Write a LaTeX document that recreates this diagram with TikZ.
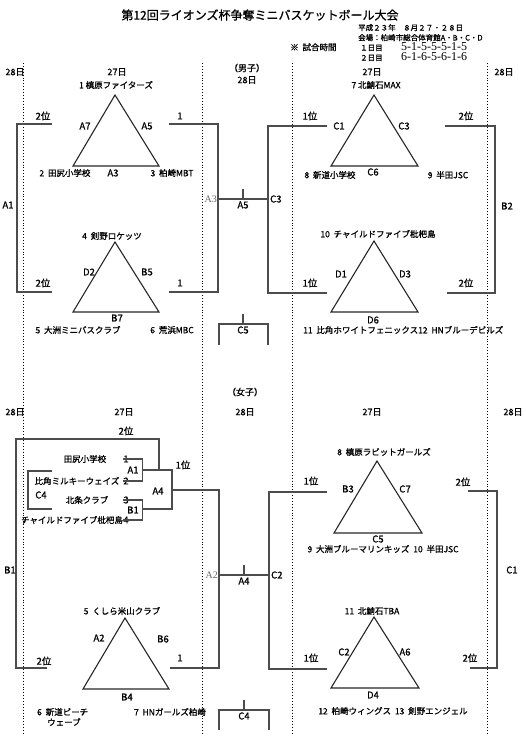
\documentclass[tikz,border=0pt]{standalone}
\usepackage{fontspec}
\setmainfont{Noto Sans CJK JP}[FakeBold=0.9]
\newfontfamily\serifnum{Liberation Serif}
\usetikzlibrary{calc}

\tikzset{
  team/.style={font=\fontsize{8.5}{10}\selectfont, inner sep=0pt},
  game/.style={font=\fontsize{9.5}{11}\selectfont, inner sep=0pt},
  head/.style={font=\fontsize{9}{11}\selectfont, inner sep=0pt},
  info/.style={font=\fontsize{7.5}{9}\selectfont, inner sep=0pt, anchor=west, text height=6pt, text depth=1pt},
  bracket/.style={line width=1.1pt, draw=black!70},
  tri/.style={line width=1.1pt, draw=black!85},
  guide/.style={dotted, line width=0.9pt},
}

\begin{document}
\begin{tikzpicture}[x=1pt, y=-1pt]
    \useasboundingbox (0,0) rectangle (526,737);

    % Title and schedule
    \node (title) at (260,15) [font=\fontsize{12}{14}\selectfont] {第12回ライオンズ杯争奪ミニバスケットボール大会};
    \node (date) at (358,28) [info] {平成２３年　８月２７・２８日};
    \node (venue) at (358,38) [info] {会場：柏崎市総合体育館A・B・C・D};
    \node (note) at (290,48) [info, font=\fontsize{8.5}{10}\selectfont] {※\ \ 試合時間};
    \node (day1) at (360,48) [info] {１日目};
    \node (day2) at (360,58) [info] {２日目};
    \node (time1) at (401,47.5) [info, font=\serifnum\fontsize{12}{13}\selectfont] {5-1-5-5-5-1-5};
    \node (time2) at (401,58) [info, font=\serifnum\fontsize{12}{13}\selectfont] {6-1-6-5-6-1-6};

    % Day guides
    \draw[guide] (23,63) coordinate (g1) -- (23,735);
    \draw[guide] (202,63) coordinate (g2) -- (202,735);
    \draw[guide] (292,63) coordinate (g3) -- (292,735);
    \draw[guide] (487,63) coordinate (g4) -- (487,735);

    % % Boys
    \node (mh1) at (15,72) [head] {28日};
    \node (mh2) at (117,72) [head] {27日};
    \node (mh3) at (247,68) [head] {（男子）};
    \node (mh4) at (247,80) [head] {28日};
    \node (mh5) at (372,72) [head] {27日};
    \node (mh6) at (504,72) [head] {28日};

    % Group 1-2-3
    \coordinate (p1) at (115,95);
    \coordinate (p2) at (73,166);
    \coordinate (p3) at (159,166);
    \draw[tri] (p1) -- (p2) -- (p3) -- cycle;
    \node (t1) at (116,85) [team] {1\ 槙原ファイターズ};
    \node (t2) at (65,173) [team] {2\ \ 田尻小学校};
    \node (t3) at (172,173) [team] {3\ \ 柏崎MBT};
    \node (e12) at (85,126) [game] {A7};
    \node (e13) at (147,126) [game] {A5};
    \node (e23) at (113,173) [game] {A3};

    % Group 4-5-6
    \coordinate (p4) at (115,242);
    \coordinate (p5) at (73,312);
    \coordinate (p6) at (159,312);
    \draw[tri] (p4) -- (p5) -- (p6) -- cycle;
    \node (t4) at (112,236) [team] {4\ \ 剣野ロケッツ};
    \node (t5) at (78,330) [team] {5\ \ 大洲ミニバスクラブ};
    \node (t6) at (172,330) [team] {6\ \ 荒浜MBC};
    \node (e45) at (89,272) [game] {D2};
    \node (e46) at (147,272) [game] {B5};
    \node (e56) at (117,318) [game] {B7};

    % Group 7-8-9
    \coordinate (p7) at (374,95);
    \coordinate (p8) at (331,166);
    \coordinate (p9) at (418,166);
    \draw[tri] (p7) -- (p8) -- (p9) -- cycle;
    \node (t7) at (376,85) [team] {7\ 北鯖石MAX};
    \node (t8) at (330,175) [team] {8\ \ 新道小学校};
    \node (t9) at (448,175) [team] {9\ \ 半田JSC};
    \node (e78) at (339,126) [game] {C1};
    \node (e79) at (404,126) [game] {C3};
    \node (e89) at (373,172) [game] {C6};

    % Group 10-11-12
    \coordinate (p10) at (374,241);
    \coordinate (p11) at (331,312);
    \coordinate (p12) at (418,312);
    \draw[tri] (p10) -- (p11) -- (p12) -- cycle;
    \node (t10) at (378,234) [team] {10\ \ チャイルドファイブ枇杷島};
    \node (t11) at (303,330) [team, anchor=west] {11\ \ 比角ホワイトフェニックス12\ \ HNブルーデビルズ};
    \node (e1011) at (341,274) [game] {D1};
    \node (e1012) at (405,274) [game] {D3};
    \node (e1112) at (373,320) [game] {D6};

    % Places
    \coordinate (m2a) at (52,124);
    \coordinate (m2b) at (52,292);
    \draw[bracket] (m2a) -- ++(-35,0) |- (m2b);
    \node (mr1) at (43,116) [game] {2位};
    \node (mr2) at (43,283) [game] {2位};
    \node (mg1) at (8,205) [game] {A1};

    \coordinate (m2c) at (445,126);
    \coordinate (m2d) at (447,293);
    \draw[bracket] (m2c) -- ++(50,0) |- (m2d);
    \node (mr3) at (466,116) [game] {2位};
    \node (mr4) at (466,283) [game] {2位};
    \node (mg2) at (507,206) [game] {B2};

    % Final round
    \coordinate (m1a) at (169,124);
    \coordinate (m1b) at (169,292);
    \coordinate (m1c) at (327,126);
    \coordinate (m1d) at (327,293);
    \coordinate (mL) at (218,199);
    \coordinate (mR) at (268,199);
    \draw[bracket] (m1a) -| (mL) |- (m1b);
    \draw[bracket] (m1c) -| (mR) |- (m1d);
    \draw[bracket] (mL) -- (mR);
    \draw[bracket] ($(mL)!0.5!(mR)$) coordinate (mF) -- ++(0,-10);
    \node (mw1) at (180,116) [game] {1};
    \node (mw2) at (180,283) [game] {1};
    \node (mw3) at (310,116) [game] {1位};
    \node (mw4) at (310,283) [game] {1位};
    \node (mgL) at (217,199) [anchor=east, inner sep=0pt, text=black!60, font=\serifnum\fontsize{10}{11}\selectfont] {A3};
    \node (mgF) at (243,205) [game] {A5};
    \node (mgR) at (270,199) [game, anchor=west] {C3};

    % Third place
    \coordinate (m3) at (243,314);
    \draw[bracket] (m3) -- ++(0,10) -- ++(-24,0) -- ++(0,21);
    \draw[bracket] (m3) ++(0,10) -- ++(25,0) -- ++(0,21);
    \node (mg3) at (243,330) [game] {C5};

    % % Girls
    \node (wh1) at (245,392) [head] {（女子）};
    \node (wh2) at (15,412) [head] {28日};
    \node (wh3) at (124,412) [head] {27日};
    \node (wh4) at (245,412) [head] {28日};
    \node (wh5) at (372,412) [head] {27日};
    \node (wh6) at (513,412) [head] {28日};

    % Group 1-2-3-4
    \node (u1) at (85,459) [team] {田尻小学校};
    \node (u2) at (77,481) [team] {比角ミルキーウェイズ};
    \node (u3) at (87,500) [team] {北条クラブ};
    \node (u4) at (72,520) [team] {チャイルドファイブ枇杷島};
    \node (n1) at (126,459) [game] {1};
    \node (n2) at (126,481) [game] {2};
    \node (n3) at (126,500) [game] {3};
    \node (n4) at (126,520) [game] {4};
    \draw[bracket] (n1.west) -- ++(19.5,0) |- (n2.west);
    \draw[bracket] (n3.west) -- ++(19.5,0) |- (n4.west);
    \node (wgA1) at (133,470) [game] {A1};
    \node (wgB1) at (133,510) [game] {B1};

    \coordinate (wA1) at (143,470);
    \coordinate (wB1) at (143,509);
    \draw[bracket] (wA1) -- ++(29,0) |- (wB1);
    \node (wgA4) at (158,491) [game] {A4};
    \node (ww0) at (183,465) [game] {1位};

    \coordinate (w2a) at (47,668);
    \coordinate (w2top) at (159,470);
    \draw[bracket] (w2a) -- ++(-31,0) -- ++(0,-229) -| (w2top);
    \node (wr0) at (126,431) [game] {2位};
    \node (wr1) at (44,661) [game] {2位};
    \node (wgB1b) at (10,570) [game] {B1};

    \coordinate (wc4a) at (52,471);
    \coordinate (wc4b) at (52,509);
    \draw[bracket] (wc4a) -- ++(-24,0) |- (wc4b);
    \node (wgC4) at (41,495) [game] {C4};

    % Group 5-6-7
    \coordinate (q5) at (125,618);
    \coordinate (q6) at (83,689);
    \coordinate (q7) at (169,689);
    \draw[tri] (q5) -- (q6) -- (q7) -- cycle;
    \node (s5) at (122,611) [team] {5\ \ くしら米山クラブ};
    \node (s6) at (37,712) [team, anchor=west] {6\ \ 新道ビーチ};
    \node (s6b) at (47,722) [team, anchor=west] {ウェーブ};
    \node (s7) at (170,712) [team] {7\ \ HNガールズ柏崎};
    \node (f56) at (99,638) [game] {A2};
    \node (f57) at (163,639) [game] {B6};
    \node (f67) at (127,697) [game] {B4};

    % Group 8-9-10
    \coordinate (q8) at (377,461);
    \coordinate (q9) at (334,533);
    \coordinate (q10) at (422,533);
    \draw[tri] (q8) -- (q9) -- (q10) -- cycle;
    \node (s8) at (384,452) [team] {8\ \ 槙原ラビットガールズ};
    \node (s9) at (383,549) [team] {9\ \ 大洲ブルーマリンキッズ\ \ 10\ \ 半田JSC};
    \node (f89) at (348,489) [game] {B3};
    \node (f810) at (405,489) [game] {C7};
    \node (f910) at (378,539) [game] {C5};

    % Group 11-12-13
    \coordinate (q11) at (374,617);
    \coordinate (q12) at (331,688);
    \coordinate (q13) at (419,688);
    \draw[tri] (q11) -- (q12) -- (q13) -- cycle;
    \node (s11) at (372,611) [team] {11\ \ 北鯖石TBA};
    \node (s12) at (393,711) [team] {12\ \ 柏崎ウィングス\ \ 13\ \ 剣野エンジェル};
    \node (f1112) at (344,652) [game] {C2};
    \node (f1113) at (405,652) [game] {A6};
    \node (f1213) at (373,695) [game] {D4};

    % Places
    \coordinate (w2c) at (468,491);
    \coordinate (w2d) at (470,668);
    \draw[bracket] (w2c) -- ++(29,0) |- (w2d);
    \node (wr2) at (463,482) [game] {2位};
    \node (wr3) at (470,658) [game] {2位};
    \node (wgC1) at (512,570) [game] {C1};

    % Final round
    \coordinate (wA4) at (172,490);
    \coordinate (w1b) at (170,668);
    \coordinate (w1c) at (327,492);
    \coordinate (w1d) at (327,669);
    \coordinate (wL) at (219,575);
    \coordinate (wR) at (269,575);
    \draw[bracket] (wA4) -| (wL) |- (w1b);
    \draw[bracket] (w1c) -| (wR) |- (w1d);
    \draw[bracket] (wL) -- (wR);
    \draw[bracket] ($(wL)!0.5!(wR)$) coordinate (wF) -- ++(0,-10);
    \node (ww1) at (180,658) [game] {1};
    \node (ww2) at (311,481) [game] {1位};
    \node (ww3) at (311,658) [game] {1位};
    \node (wgL) at (218,575) [anchor=east, inner sep=0pt, text=black!60, font=\serifnum\fontsize{10}{11}\selectfont] {A2};
    \node (wgF) at (244,581) [game] {A4};
    \node (wgR) at (271,575) [game, anchor=west] {C2};

    % Third place
    \coordinate (w3) at (244,700);
    \draw[bracket] (w3) -- ++(0,10) -- ++(-25,0) -- ++(0,20);
    \draw[bracket] (w3) ++(0,10) -- ++(25,0) -- ++(0,20);
    \node (wg3) at (244,716) [game] {C4};
\end{tikzpicture}
\end{document}
